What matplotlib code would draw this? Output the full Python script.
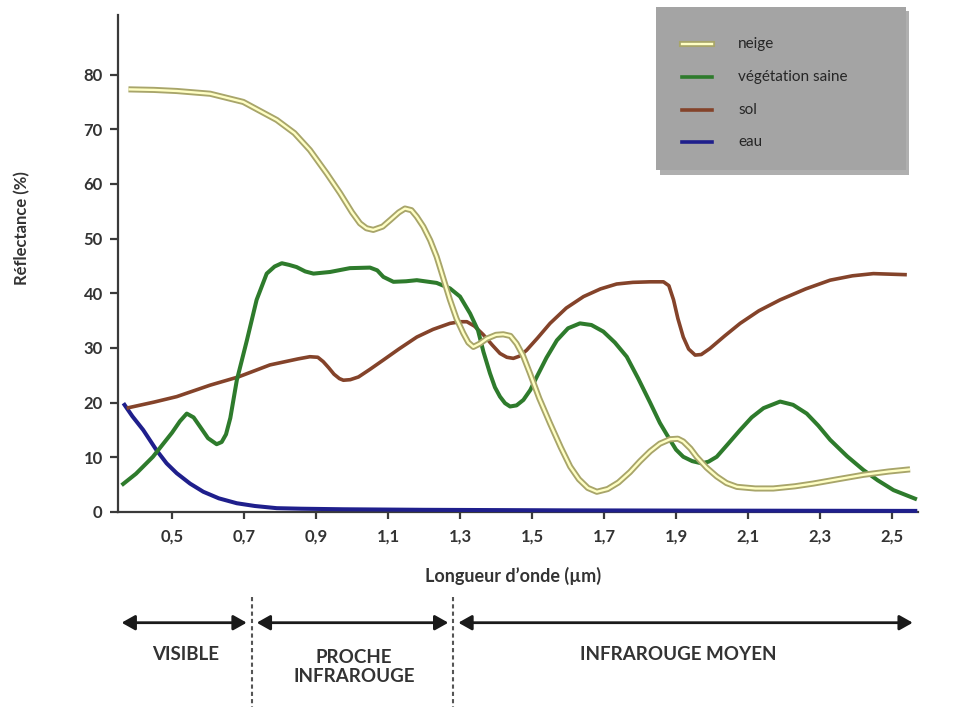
import matplotlib
matplotlib.use("Agg")
import matplotlib.pyplot as plt
import matplotlib.patheffects as pe
from matplotlib.patches import Rectangle
from matplotlib.lines import Line2D
from matplotlib.transforms import blended_transform_factory

# ---------------- data ----------------
neige_x = [0.379, 0.45, 0.513, 0.606, 0.698, 0.791, 0.84, 0.883, 0.93, 0.967,
           1.0, 1.022, 1.04, 1.059, 1.085, 1.106, 1.13, 1.147, 1.165, 1.18,
           1.198, 1.217, 1.235, 1.244, 1.258, 1.272, 1.29, 1.309, 1.323, 1.337,
           1.355, 1.374, 1.40, 1.42, 1.44, 1.457, 1.475, 1.494, 1.52, 1.55,
           1.58, 1.606, 1.63, 1.655, 1.68, 1.71, 1.74, 1.772, 1.80, 1.828,
           1.855, 1.883, 1.905, 1.92, 1.94, 1.957, 1.985, 2.013, 2.04, 2.069,
           2.12, 2.17, 2.23, 2.281, 2.35, 2.42, 2.49, 2.55]
neige_y = [77.3, 77.2, 77.0, 76.5, 75.0, 71.7, 69.3, 66.2, 61.9, 58.3,
           54.8, 52.8, 51.9, 51.6, 52.2, 53.4, 54.8, 55.5, 55.2, 54.0,
           52.2, 49.7, 46.7, 44.8, 41.8, 38.8, 35.4, 32.7, 31.0, 30.2,
           30.8, 31.7, 32.4, 32.5, 32.2, 30.8, 28.6, 25.4, 20.8, 16.2,
           11.8, 8.3, 6.0, 4.4, 3.7, 4.2, 5.4, 7.3, 9.3, 11.1,
           12.5, 13.3, 13.4, 12.9, 11.6, 10.1, 8.1, 6.5, 5.3, 4.6,
           4.3, 4.3, 4.7, 5.2, 6.0, 6.8, 7.4, 7.8]

veg_x = [0.360, 0.40, 0.447, 0.50, 0.522, 0.541, 0.56, 0.578, 0.60, 0.624,
         0.638, 0.650, 0.662, 0.680, 0.708, 0.735, 0.763, 0.785, 0.805, 0.825,
         0.846, 0.870, 0.893, 0.939, 0.994, 1.05, 1.07, 1.087, 1.115, 1.15,
         1.18, 1.235, 1.272, 1.30, 1.328, 1.35, 1.365, 1.383, 1.397, 1.411,
         1.425, 1.439, 1.457, 1.476, 1.495, 1.513, 1.54, 1.569, 1.60, 1.633,
         1.665, 1.698, 1.73, 1.763, 1.795, 1.828, 1.855, 1.883, 1.90, 1.920,
         1.945, 1.971, 1.99, 2.013, 2.045, 2.078, 2.11, 2.143, 2.189, 2.225,
         2.263, 2.295, 2.328, 2.375, 2.42, 2.46, 2.504, 2.569]
veg_y = [4.9, 7.0, 10.1, 14.5, 16.6, 18.0, 17.3, 15.6, 13.5, 12.4,
         12.8, 14.2, 17.2, 24.1, 31.4, 38.8, 43.6, 44.9, 45.5, 45.2,
         44.8, 44.0, 43.6, 43.9, 44.6, 44.7, 44.2, 43.0, 42.1, 42.2,
         42.4, 41.9, 40.9, 39.4, 36.3, 33.2, 29.3, 25.4, 22.8, 21.1,
         19.9, 19.3, 19.5, 20.5, 22.3, 24.7, 28.2, 31.4, 33.6, 34.5,
         34.2, 33.0, 31.0, 28.4, 24.4, 20.0, 16.3, 13.2, 11.4, 10.1,
         9.3, 8.9, 9.2, 10.1, 12.5, 15.0, 17.3, 19.0, 20.2, 19.6,
         18.0, 15.8, 13.2, 10.2, 7.7, 5.8, 4.0, 2.3]

sol_x = [0.374, 0.45, 0.513, 0.606, 0.684, 0.772, 0.85, 0.883, 0.905, 0.92,
         0.935, 0.95, 0.965, 0.976, 0.995, 1.018, 1.05, 1.087, 1.13, 1.18,
         1.225, 1.272, 1.30, 1.319, 1.34, 1.365, 1.39, 1.411, 1.43, 1.448,
         1.465, 1.485, 1.515, 1.55, 1.595, 1.643, 1.69, 1.735, 1.78, 1.828,
         1.865, 1.88, 1.893, 1.905, 1.920, 1.935, 1.953, 1.97, 1.994, 2.035,
         2.078, 2.13, 2.189, 2.26, 2.328, 2.39, 2.448, 2.541]
sol_y = [19.0, 20.1, 21.1, 23.2, 24.7, 26.9, 28.0, 28.4, 28.3, 27.5,
         26.4, 25.2, 24.4, 24.1, 24.2, 24.7, 26.1, 27.8, 29.8, 32.0,
         33.4, 34.5, 34.8, 34.8, 34.0, 32.4, 30.5, 29.0, 28.3, 28.1,
         28.5, 29.6, 31.8, 34.5, 37.3, 39.4, 40.8, 41.7, 42.0, 42.1,
         42.1, 41.4, 38.8, 35.4, 32.0, 29.8, 28.7, 28.8, 29.9, 32.2,
         34.5, 36.8, 38.8, 40.8, 42.4, 43.2, 43.6, 43.4]

eau_x = [0.365, 0.39, 0.42, 0.457, 0.485, 0.513, 0.55, 0.587, 0.63, 0.68,
         0.73, 0.791, 0.86, 0.975, 1.2, 1.6, 2.0, 2.57]
eau_y = [19.9, 17.5, 15.0, 11.3, 8.9, 7.1, 5.2, 3.7, 2.5, 1.6,
         1.1, 0.7, 0.6, 0.5, 0.4, 0.3, 0.25, 0.2]

series_labels = ["neige", "végétation saine", "sol", "eau"]

xtick_vals = [0.5, 0.7, 0.9, 1.1, 1.3, 1.5, 1.7, 1.9, 2.1, 2.3, 2.5]
xtick_labels = ["0,5", "0,7", "0,9", "1,1", "1,3", "1,5", "1,7", "1,9", "2,1", "2,3", "2,5"]
ytick_vals = [0, 10, 20, 30, 40, 50, 60, 70, 80]
ytick_labels = ["0", "10", "20", "30", "40", "50", "60", "70", "80"]

band_labels = ["VISIBLE", "PROCHE\nINFRAROUGE", "INFRAROUGE MOYEN"]
band_arrows = [(0.360, 0.7075), (0.7353, 1.2675), (1.2953, 2.5575)]
band_label_x = [0.5375, 1.0056, 1.907]
band_dividers = [0.7214, 1.2814]

# ---------------- style ----------------
plt.rcParams["font.family"] = ["Lato", "DejaVu Sans"]
TXT = "#333333"
AX = "#3a3a3a"
C_VEG = "#2e7b2c"
C_SOL = "#84432a"
C_EAU = "#1f1f8c"
C_NEIGE_IN = "#ffffc4"
C_NEIGE_OUT = "#a8a56a"

W, H = 957, 707
fig = plt.figure(figsize=(W / 100, H / 100), dpi=100)


def fx(px):
    return px / W


def fy(py):
    return 1 - py / H


ax = fig.add_axes([fx(118), fy(512), fx(918) - fx(118), fy(15) - fy(512)])
ax.set_xlim(0.35, 2.572)
ax.set_ylim(0, 90.9)

snow_fx = [pe.Stroke(linewidth=4.4, foreground=C_NEIGE_OUT), pe.Normal()]

ax.plot(eau_x, eau_y, color=C_EAU, lw=2.9, zorder=3, clip_on=False,
        solid_joinstyle="round", solid_capstyle="butt")
ax.plot(sol_x, sol_y, color=C_SOL, lw=2.6, zorder=4, clip_on=False,
        solid_joinstyle="round", solid_capstyle="butt")
ax.plot(veg_x, veg_y, color=C_VEG, lw=2.9, zorder=5, clip_on=False,
        solid_joinstyle="round", solid_capstyle="butt")
ax.plot(neige_x, neige_y, color=C_NEIGE_IN, lw=1.7, zorder=6, clip_on=False,
        solid_joinstyle="round", solid_capstyle="butt", path_effects=snow_fx)

for s in ["top", "right"]:
    ax.spines[s].set_visible(False)
for s in ["left", "bottom"]:
    ax.spines[s].set_color(AX)
    ax.spines[s].set_linewidth(1.6)
    ax.spines[s].set_zorder(2.5)

ax.set_xticks(xtick_vals)
ax.set_xticklabels(xtick_labels)
ax.set_yticks(ytick_vals)
ax.set_yticklabels(ytick_labels)
ax.tick_params(axis="y", direction="out", length=6, width=1.6, color=AX,
               pad=5, labelsize=12, labelcolor=TXT)
ax.tick_params(axis="x", direction="out", length=5, width=1.6, color=AX,
               pad=7, labelsize=12, labelcolor=TXT)
for lab in ax.get_xticklabels() + ax.get_yticklabels():
    lab.set_fontweight("bold")

fig.text(fx(22), fy(228), "Réflectance (%)", rotation=90, ha="center",
         va="center", fontsize=12, fontweight="bold", color=TXT)
fig.text(fx(513), fy(576), "Longueur d’onde (µm)", ha="center", va="center",
         fontsize=13, fontweight="bold", color=TXT)

# ---------------- legend box ----------------
fig.patches.append(Rectangle((fx(660), fy(175)), fx(909) - fx(660), fy(11) - fy(175),
                             transform=fig.transFigure, facecolor="#6e6e6e",
                             alpha=0.55, edgecolor="none", zorder=1))
fig.patches.append(Rectangle((fx(656), fy(170)), fx(906) - fx(656), fy(7) - fy(170),
                             transform=fig.transFigure, facecolor="#a4a4a4",
                             edgecolor="none", zorder=2))
leg_y = [44, 77, 109.5, 142]
leg_styles = [
    dict(color=C_NEIGE_IN, lw=1.7, path_effects=snow_fx),
    dict(color=C_VEG, lw=2.6),
    dict(color=C_SOL, lw=2.6),
    dict(color=C_EAU, lw=2.6),
]
for lab, yy, st in zip(series_labels, leg_y, leg_styles):
    fig.lines.append(Line2D([fx(682), fx(712)], [fy(yy), fy(yy)],
                            transform=fig.transFigure, zorder=3, **st))
    fig.text(fx(738), fy(yy), lab, ha="left", va="center", fontsize=11,
             color="#262626", zorder=3)

# ---------------- spectral bands below ----------------
trans = blended_transform_factory(ax.transData, fig.transFigure)
ya = fy(622.7)
for (x0, x1) in band_arrows:
    ax.annotate("", xy=(x1, ya), xytext=(x0, ya), xycoords=trans,
                textcoords=trans, annotation_clip=False,
                arrowprops=dict(arrowstyle="<|-|>,head_length=0.8,head_width=0.45",
                                color="#1a1a1a", lw=2.0, shrinkA=0, shrinkB=0))
for xd in band_dividers:
    ax.add_line(Line2D([xd, xd], [fy(597), fy(707)], transform=trans,
                       color="#555555", lw=1.5, dashes=(2, 1.5), clip_on=False))
for lab, xc in zip(band_labels, band_label_x):
    ax.text(xc, fy(655) if "\n" not in lab else fy(667), lab, transform=trans,
            ha="center", va="center", fontsize=13.5, fontweight="bold",
            color=TXT, linespacing=1.2, clip_on=False)

fig.savefig("out.png", dpi=100)
